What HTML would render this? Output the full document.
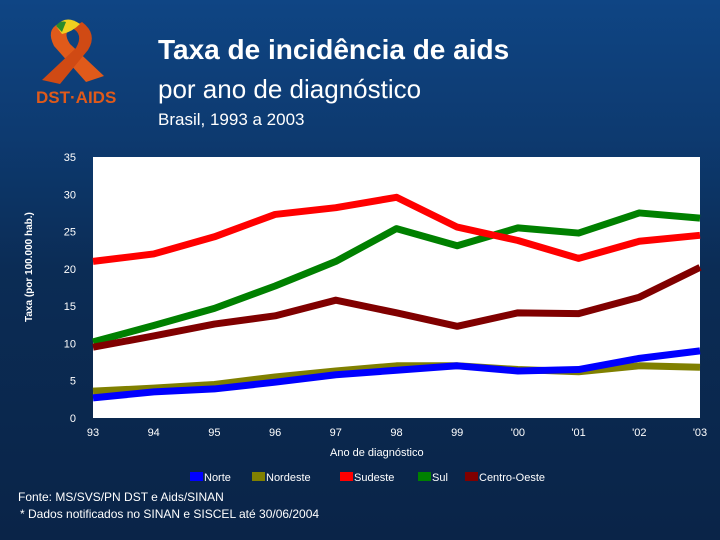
<!DOCTYPE html>
<html><head><meta charset="utf-8"><style>
body{margin:0;width:720px;height:540px;overflow:hidden;font-family:"Liberation Sans",sans-serif}
#bg{position:absolute;left:0;top:0;width:720px;height:540px;background:linear-gradient(180deg,#0f4584 0%,#0d3a70 25%,#0b2c55 50%,#0a2448 100%)}
.t{position:absolute;color:#fff;white-space:nowrap}
</style></head><body>
<div id="bg"></div>
<svg style="position:absolute;left:0;top:0" width="720" height="540">
<g>
<path d="M58,24 Q46,30 54,46 L86,82 L104,76 L70,44 Q62,32 72,28 Z" fill="#e05a1a"/>
<path d="M72,28 Q84,34 76,48 L42,80 L60,84 L88,50 Q98,34 82,22 Z" fill="#d04a14"/>
<path d="M56,26 Q66,14 80,24 Q72,32 62,34 Z" fill="#f0d020"/>
<path d="M56,26 Q60,20 66,22 L62,32 Z" fill="#2a8a2a"/>
<text x="36" y="103" font-family="Liberation Sans" font-weight="bold" font-size="17" fill="#e05a1a">DST·AIDS</text>
</g>
<rect x="93" y="157" width="607" height="261" fill="#fff"/>
<g id="marks"></g>
</svg>
<div class="t" style="left:158px;top:34px;font-size:28px;font-weight:bold;color:#fff">Taxa de incidência de aids</div>
<div class="t" style="left:158px;top:74px;font-size:26px">por ano de diagnóstico</div>
<div class="t" style="left:158px;top:110px;font-size:17px">Brasil, 1993 a 2003</div>
<div class="t" style="left:24px;top:322px;font-size:10px;transform:rotate(-90deg);transform-origin:0 0;font-weight:bold">Taxa (por 100.000 hab.)</div>
<div class="t" style="left:330px;top:447px;font-size:11px">Ano de diagnóstico</div>
<div class="t" style="left:18px;top:490px;font-size:12px">Fonte: MS/SVS/PN DST e Aids/SINAN</div>
<div class="t" style="left:20px;top:507px;font-size:12px">* Dados notificados no SINAN e SISCEL até 30/06/2004</div>
<script>
const categories=["93","94","95","96","97","98","99","'00","'01","'02","'03"];
const yTicks=[0,5,10,15,20,25,30,35];
const seriesNames=["Norte","Nordeste","Sudeste","Sul","Centro-Oeste"];
const norte=[2.7,3.5,3.9,4.8,5.8,6.4,7.0,6.3,6.5,8.0,9.0];
const nordeste=[3.6,4.0,4.5,5.5,6.3,7.0,7.0,6.5,6.2,7.0,6.8];
const sudeste=[21.0,22.0,24.3,27.3,28.2,29.6,25.6,23.8,21.4,23.7,24.5];
const sul=[10.2,12.4,14.7,17.7,21.0,25.4,23.1,25.5,24.8,27.5,26.8];
const centroOeste=[9.5,11.0,12.6,13.7,15.8,14.1,12.3,14.1,14.0,16.2,20.2];
const colors=["#0000ff","#808000","#ff0000","#008000","#800000"];
const X0=93,X1=700,Y0=418,Y1=157;
const x=i=>X0+i*(X1-X0)/(categories.length-1);
const y=v=>Y0-v*(Y0-Y1)/35;
const NS="http://www.w3.org/2000/svg";
const g=document.getElementById('marks');
yTicks.forEach(v=>{const t=document.createElementNS(NS,'text');


t.setAttribute('x',76);t.setAttribute('y',y(v)+4);t.setAttribute('text-anchor','end');t.setAttribute('font-size','11');t.setAttribute('fill','#fff');t.textContent=v;g.appendChild(t);});
categories.forEach((c,i)=>{const t=document.createElementNS(NS,'text');


t.setAttribute('x',x(i));t.setAttribute('y',436);t.setAttribute('text-anchor','middle');t.setAttribute('font-size','11');t.setAttribute('fill','#fff');t.textContent=c;g.appendChild(t);});
const all=[norte,nordeste,sudeste,sul,centroOeste];
const order=[1,0,3,2,4];
order.forEach(k=>{const p=document.createElementNS(NS,'polyline');


p.setAttribute('points',all[k].map((v,i)=>x(i)+','+y(v)).join(' '));
p.setAttribute('fill','none');p.setAttribute('stroke',colors[k]);p.setAttribute('stroke-width','7');p.setAttribute('stroke-linejoin','round');g.appendChild(p);});
const lx=[190,252,340,418,465];
seriesNames.forEach((n,k)=>{const r=document.createElementNS(NS,'rect');


r.setAttribute('x',lx[k]);r.setAttribute('y',472);r.setAttribute('width',13);r.setAttribute('height',9);r.setAttribute('fill',colors[k]);g.appendChild(r);
const t=document.createElementNS(NS,'text');


t.setAttribute('x',lx[k]+14);t.setAttribute('y',481);t.setAttribute('font-size','11');t.setAttribute('fill','#fff');t.textContent=n;g.appendChild(t);});
</script>
</body></html>
